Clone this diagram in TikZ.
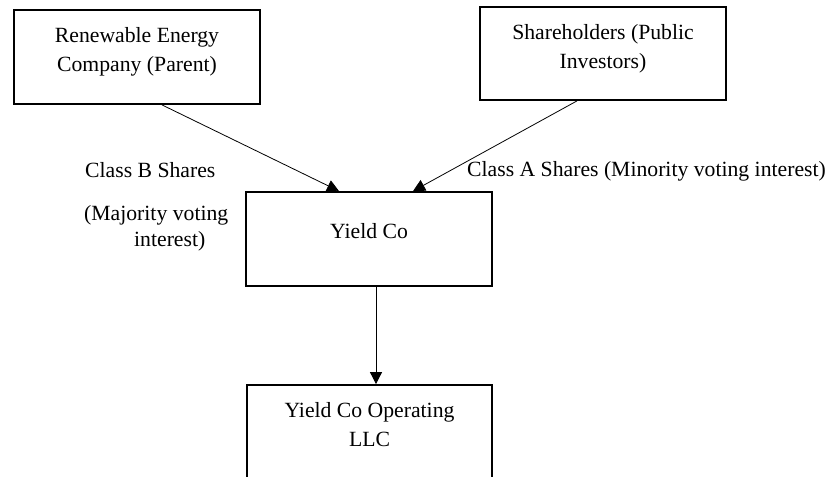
\documentclass[tikz,border=0pt]{standalone}
\usepackage{fontspec}
\setmainfont{Liberation Serif}
\usetikzlibrary{arrows.meta}
\begin{document}
\begin{tikzpicture}[x=1pt,y=-1pt,
  box/.style={draw=black,line width=1.8pt,rectangle,inner sep=0pt,
    minimum width=246pt,minimum height=94pt},
  txt/.style={align=center,inner sep=0pt,
    font=\fontsize{21.7}{29}\selectfont},
  lbl/.style={inner sep=0pt,anchor=base west,
    font=\fontsize{21.7}{27}\selectfont},
  link/.style={line width=0.8pt,-{Triangle[length=12pt,width=12pt]}}]
\useasboundingbox (0,0) rectangle (831,477);
\clip (0,0) rectangle (831,477);

% boxes
\node[box] (parent) at (137,57) {};
\node[box,minimum height=93pt] (holders) at (603,53.5) {};
\node[box] (yield) at (369,239) {};
\node[box,minimum width=245pt,minimum height=120pt] (llc) at (369.5,445) {};

% box texts
\node[txt] (parentTxt) at (137,52) {Renewable Energy\\Company (Parent)};
\node[txt] (holdersTxt) at (603,48.5) {Shareholders (Public\\Investors)};
\node[txt] (yieldTxt) at (369,231) {Yield Co};
\node[txt] (llcTxt) at (369.5,425) {Yield Co Operating\\LLC};

% share class labels
\node[lbl] (classB) at (85,177) {Class B Shares};
\node[lbl] (majority) at (84,220) {(Majority voting};
\node[lbl] (majority2) at (134,246) {interest)};
\node[lbl] (classA) at (467,176) {Class A Shares (Minority voting interest)};

% connectors
\draw[link] ([xshift=25pt]parent.south) -- ([xshift=-30pt]yield.north);
\draw[link] ([xshift=-26pt]holders.south) -- ([xshift=44pt]yield.north);
\draw[link] ([xshift=7pt]yield.south) -- ([xshift=6.5pt]llc.north);
\end{tikzpicture}
\end{document}
